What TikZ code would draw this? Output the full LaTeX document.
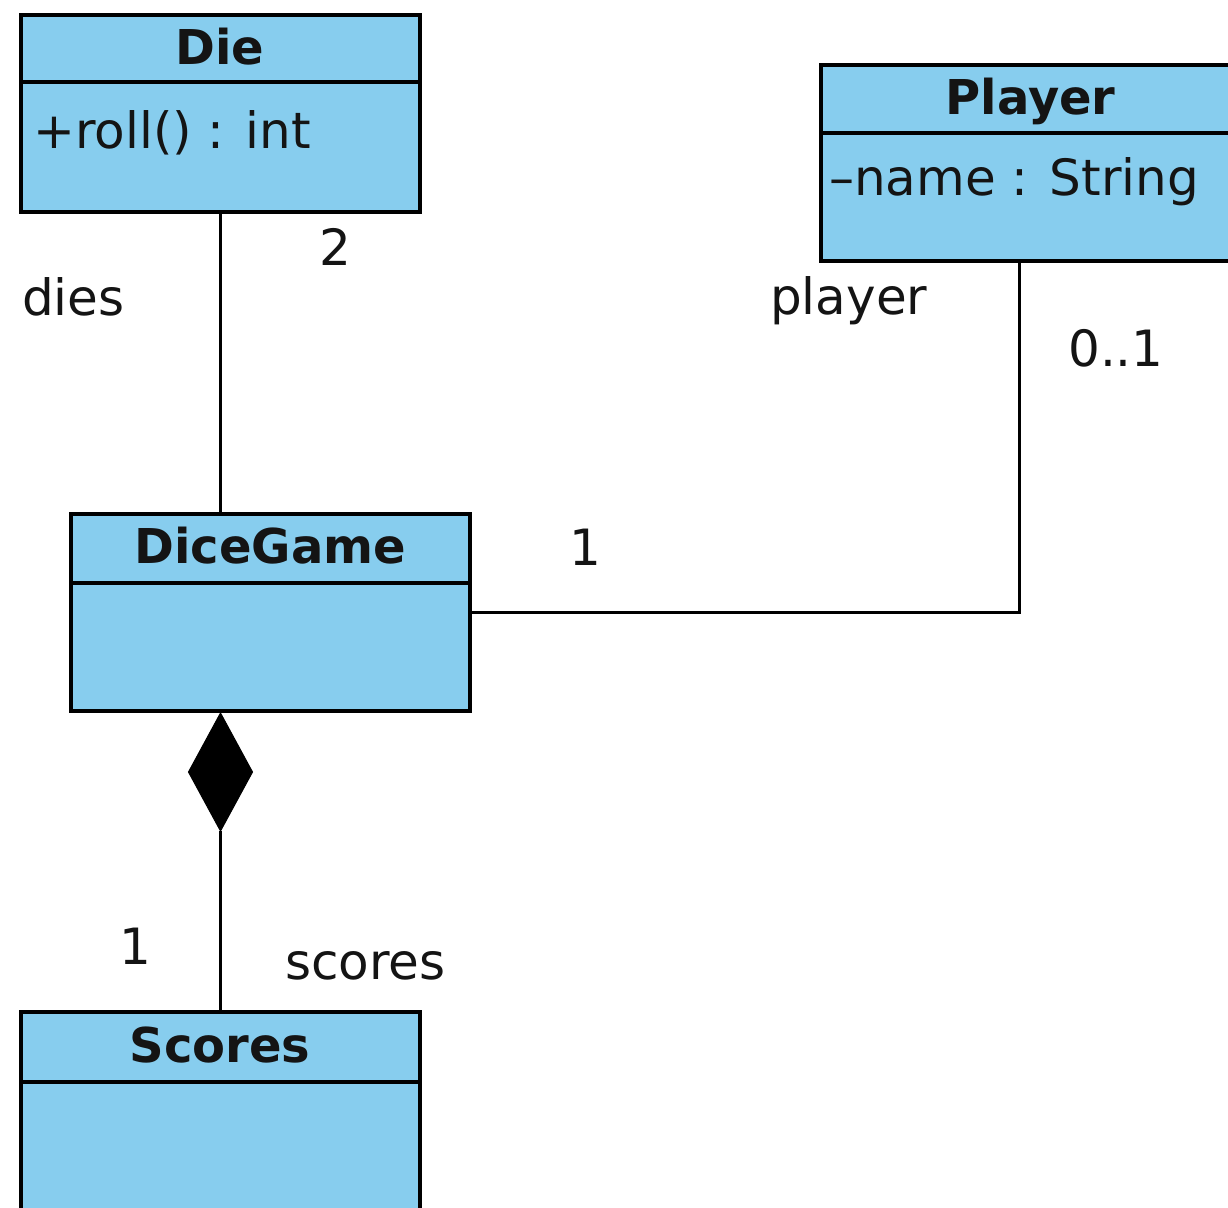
\documentclass[tikz,border=0pt]{standalone}
\usepackage{fontspec}
\setmainfont{DejaVu Sans}
\usetikzlibrary{shapes.geometric}
\definecolor{umlblue}{RGB}{135,205,238}
\definecolor{ink}{RGB}{20,20,20}
\begin{document}
\begin{tikzpicture}[x=1pt,y=-1pt,
  hdr/.style={draw=black, fill=umlblue, line width=4pt, outer sep=0pt, inner sep=0pt,
    font=\fontsize{48}{58}\selectfont\bfseries, text=ink, text height=35pt, text depth=4pt},
  bodybox/.style={draw=black, fill=umlblue, line width=4pt, outer sep=0pt, inner sep=0pt},
  attr/.style={anchor=base west, inner sep=0pt, font=\fontsize{50}{60}\selectfont, text=ink},
  lbl/.style={inner sep=0pt, font=\fontsize{50}{60}\selectfont, text=ink},
  conn/.style={line width=3pt, draw=black},
  compo/.style={shape=diamond, draw=black, fill=black, line width=1pt, inner sep=0pt, outer sep=0pt,
    minimum width=64pt, minimum height=118pt}]
\useasboundingbox (0,0) rectangle (1228,1207);
\clip (0,0) rectangle (1228,1207);
% Die
\node[bodybox, minimum width=399pt, minimum height=130pt] (diebody) at (220,147) {};
\node[hdr, minimum width=399pt, minimum height=67pt] (diehead) at (220,48.5) {Die};
\node[attr] (dieop) at (33,148) {+roll() : int};
% Player
\node[bodybox, minimum width=420pt, minimum height=128.5pt] (pbody) at (1030.5,196.75) {};
\node[hdr, minimum width=420pt, minimum height=67.5pt] (phead) at (1030.5,98.75) {Player};
\node[attr] (pattr) at (829,195) {–name : String};
% DiceGame
\node[bodybox, minimum width=399.5pt, minimum height=128.5pt] (dgbody) at (270.25,646.75) {};
\node[hdr, minimum width=399.5pt, minimum height=68.5pt] (dghead) at (270.25,548.25) {DiceGame};
% Scores
\node[bodybox, minimum width=399pt, minimum height=148pt] (sbody) at (220,1156) {};
\node[hdr, minimum width=399pt, minimum height=70pt] (shead) at (220,1047) {Scores};
% composition diamond
\node[compo] (dia) at (220.5,772) {};
% connectors
\draw[conn] (diebody.south) -- (dghead.north -| diebody.south);
\coordinate (pturn) at (1019,612);
\draw[conn] (pbody.south -| pturn) -- (pturn) -- (dgbody.east |- pturn);
\draw[conn] (dia.south) -- (shead.north -| dia.south);
% labels
\node[lbl, anchor=base] (l2) at (335,265) {2};
\node[lbl, anchor=base west] (ldies) at (22,315) {dies};
\node[lbl, anchor=base west] (lplayer) at (770,314) {player};
\node[lbl, anchor=base west] (l01) at (1068,366) {0..1};
\node[lbl, anchor=base] (l1a) at (585,565) {1};
\node[lbl, anchor=base] (l1b) at (135,964) {1};
\node[lbl, anchor=base west] (lscores) at (285,979) {scores};
\end{tikzpicture}
\end{document}
